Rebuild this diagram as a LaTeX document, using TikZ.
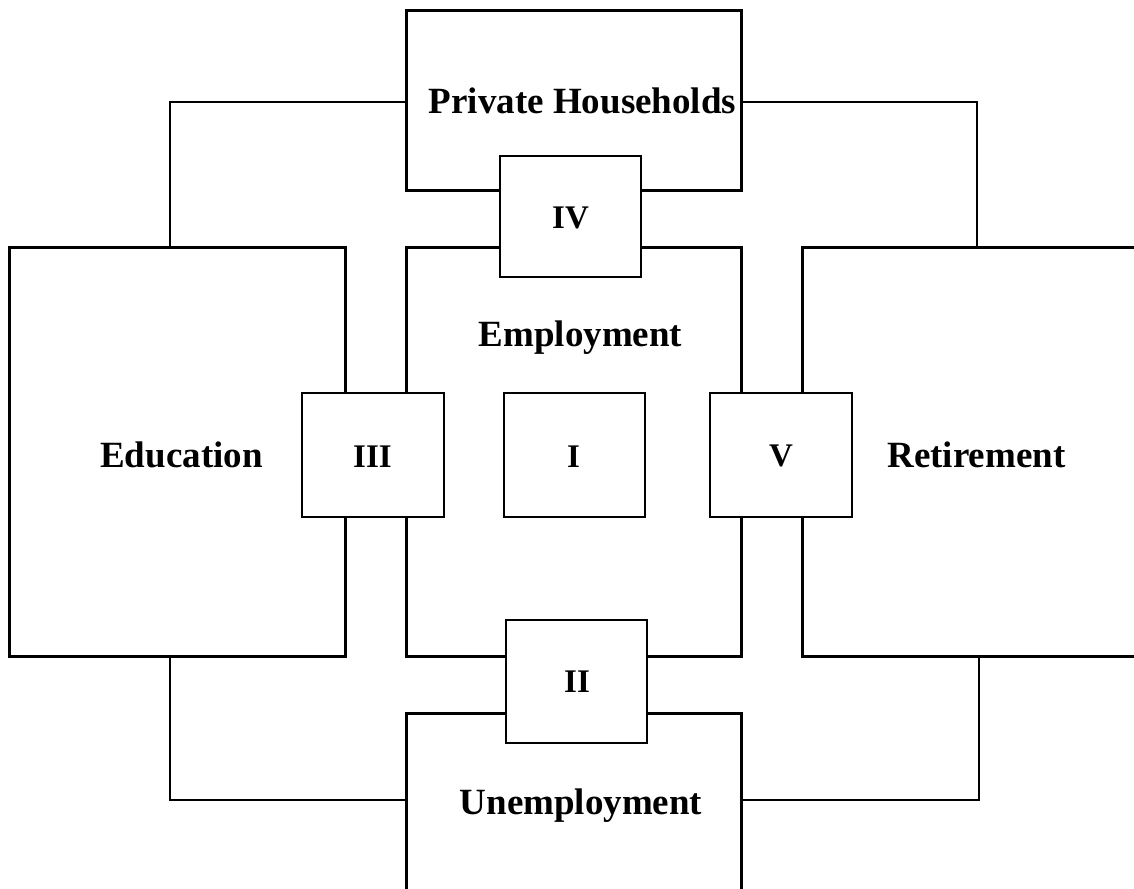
\documentclass[tikz,border=0pt]{standalone}
\usepackage{fontspec}
\setmainfont{Liberation Serif}
\begin{document}
\begin{tikzpicture}[x=0.5pt,y=-0.5pt,
  bigbox/.style={draw,line width=1.5pt,inner sep=0pt,outer sep=0pt},
  smallbox/.style={draw,fill=white,line width=1.1pt,inner sep=0pt,outer sep=0pt},
  link/.style={draw,line width=0.85pt},
  bigtext/.style={anchor=base,inner sep=0pt,font=\fontsize{18.5}{20}\selectfont\bfseries},
  smalltext/.style={anchor=base,inner sep=0pt,font=\fontsize{16.5}{18}\selectfont\bfseries}]
\useasboundingbox (0,0) rectangle (1134,888);
\clip (0,0) rectangle (1134,888);
% main boxes
\node[bigbox,minimum width=167.5pt,minimum height=89.5pt] (PH) at (573.5,100.5) {};
\node[bigbox,minimum width=168pt,minimum height=204.5pt] (Edu) at (177,451.5) {};
\node[bigbox,minimum width=167.5pt,minimum height=204.5pt] (Emp) at (573.5,451.5) {};
\node[bigbox,minimum width=184pt,minimum height=204.5pt] (Ret) at (986,451.5) {};
\node[bigbox,minimum width=167.5pt,minimum height=103.5pt] (Unemp) at (573.5,816.5) {};
% connector corners
\coordinate (tl) at (170,102);
\coordinate (tr) at (977,102);
\coordinate (bl) at (170,800);
\coordinate (br) at (979,800);
\draw[link] (PH.west |- tl) -- (tl) -- (Edu.north -| tl);
\draw[link] (PH.east |- tr) -- (tr) -- (Ret.north -| tr);
\draw[link] (Edu.south -| bl) -- (bl) -- (Unemp.west |- bl);
\draw[link] (Ret.south -| br) -- (br) -- (Unemp.east |- br);
% small boxes
\node[smallbox,minimum width=70.5pt,minimum height=60.5pt] (IV) at (570.5,216.5) {};
\node[smallbox,minimum width=71pt,minimum height=62pt] (III) at (373,455) {};
\node[smallbox,minimum width=70.5pt,minimum height=62pt] (I) at (574.5,455) {};
\node[smallbox,minimum width=71pt,minimum height=62pt] (V) at (781,455) {};
\node[smallbox,minimum width=70.5pt,minimum height=61.5pt] (II) at (576.5,681.5) {};
% texts
\node[bigtext] (tPH) at (582.5,113) {Private Households};
\node[bigtext] (tEmp) at (580.5,346) {Employment};
\node[bigtext] (tEdu) at (181.5,467) {Education};
\node[bigtext] (tRet) at (976.5,467) {Retirement};
\node[bigtext] (tUnemp) at (581,814) {Unemployment};
\node[smalltext] (tIV) at (570.5,228) {IV};
\node[smalltext] (tIII) at (372.5,467) {III};
\node[smalltext] (tI) at (573.5,467) {I};
\node[smalltext] (tV) at (781,466) {V};
\node[smalltext] (tII) at (577,692) {II};
\end{tikzpicture}
\end{document}
